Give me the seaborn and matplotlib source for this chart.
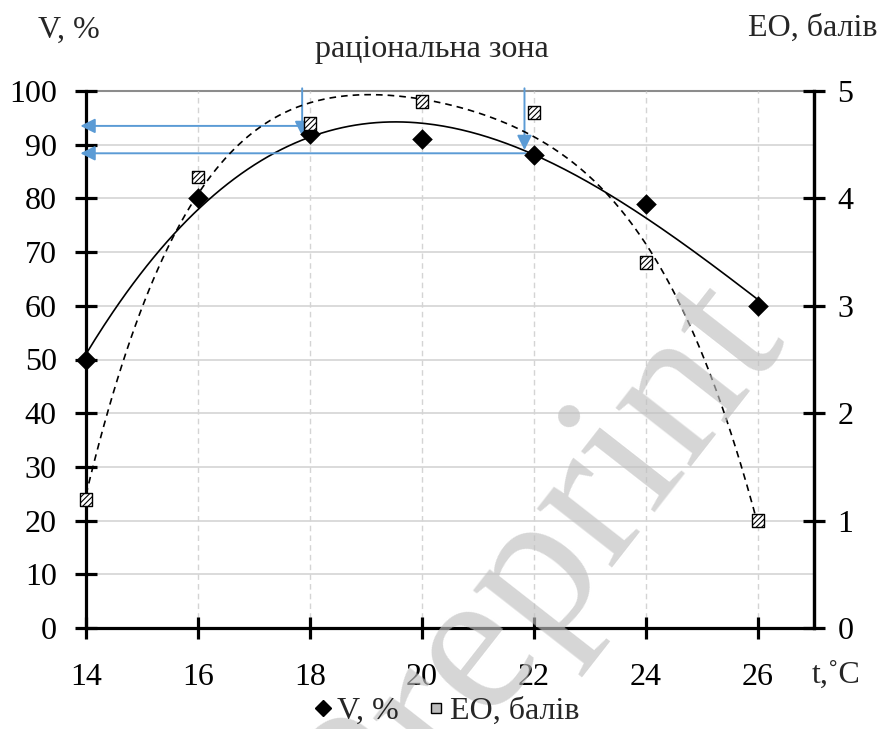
import numpy as np
import pandas as pd
import matplotlib
matplotlib.use("Agg")
import matplotlib.pyplot as plt
import seaborn as sns

# ---- data ----
t_vals = [14, 16, 18, 20, 22, 24, 26]
v_vals = [50, 80, 92, 91, 88, 79, 60]          # V, %
eo_vals = [1.2, 4.2, 4.7, 4.9, 4.8, 3.4, 1.0]  # EO, балів
x_ticks = [14, 16, 18, 20, 22, 24, 26]
y_ticks = [0, 10, 20, 30, 40, 50, 60, 70, 80, 90, 100]
y2_ticks = [0, 1, 2, 3, 4, 5]

sns.set_theme(style="white")
plt.rcParams['font.family'] = ['Liberation Serif', 'DejaVu Serif']
plt.rcParams['hatch.color'] = '#555555'
plt.rcParams['hatch.linewidth'] = 0.8

df = pd.DataFrame({"t": t_vals, "V": v_vals, "EO": eo_vals})

fig = plt.figure(figsize=(8.82, 7.29), dpi=100)
ax = fig.add_axes([86/882, 1-628/729, (814-86)/882, (628-91)/729])
ax2 = ax.twinx()

blue = '#5B9BD5'
grid_c = '#d4d4d4'

ax.set_xlim(14, 27)
ax.set_ylim(0, 100)
ax2.set_ylim(0, 5)

# grid
for y in y_ticks[1:-1]:
    ax.axhline(y, color=grid_c, lw=1.2, zorder=0)
ax.axhline(100, color='#8c8c8c', lw=1.5, zorder=0, clip_on=False)
for x in x_ticks[1:]:
    ax.axvline(x, color=grid_c, lw=1.0, ls=(0, (4, 3)), zorder=0)

# trendlines (polynomial, like spreadsheet trendlines)
tt = np.linspace(14, 26, 300)
pv = np.polyfit(t_vals, v_vals, 3)
pe = np.polyfit(t_vals, eo_vals, 4)
sns.lineplot(x=tt, y=np.polyval(pv, tt), ax=ax, color='black', lw=1.2, zorder=3)
sns.lineplot(x=tt, y=np.polyval(pe, tt), ax=ax2, color='black', lw=1.2,
             linestyle=(0, (4, 3)), zorder=3)

# points
sns.scatterplot(data=df, x="t", y="V", ax=ax, marker='D', s=110, color='black',
                edgecolor='black', linewidth=0, zorder=5, clip_on=False)
sns.scatterplot(data=df, x="t", y="EO", ax=ax2, marker='s', s=85,
                facecolor='white', edgecolor='black', linewidth=1.0,
                zorder=5, clip_on=False)
for coll in ax2.collections:
    coll.set_hatch('//////')

# arrows
ap = dict(arrowstyle='-|>', color=blue, lw=1.4, mutation_scale=22, shrinkA=0, shrinkB=0)
ax.annotate('', xy=(13.9, 93.5), xytext=(17.83, 93.5), arrowprops=ap, annotation_clip=False)
ax.annotate('', xy=(13.9, 88.4), xytext=(21.85, 88.4), arrowprops=ap, annotation_clip=False)
ax.annotate('', xy=(17.86, 91.6), xytext=(17.86, 100.5), arrowprops=ap, annotation_clip=False)
ax.annotate('', xy=(21.83, 89.0), xytext=(21.83, 100.5), arrowprops=ap, annotation_clip=False)

# spines / ticks
for s in ['left', 'bottom', 'right']:
    ax.spines[s].set_visible(True)
    ax.spines[s].set_color('black')
    ax.spines[s].set_linewidth(2.3)
ax.spines['top'].set_visible(False)
ax2.spines['top'].set_visible(False)
ax2.spines['left'].set_visible(False)
ax2.spines['bottom'].set_visible(False)
ax2.spines['right'].set_color('black')
ax2.spines['right'].set_linewidth(2.3)

ax.set_xticks(x_ticks)
ax.set_yticks(y_ticks)
ax2.set_yticks(y2_ticks)
ax.set_xticklabels([str(v) for v in x_ticks])
ax.set_yticklabels([str(v) for v in y_ticks])
ax2.set_yticklabels([str(v) for v in y2_ticks])
ax.tick_params(axis='x', direction='inout', length=16, width=2.3, pad=17,
               labelsize=23, colors='black', bottom=True)
ax.tick_params(axis='y', direction='inout', length=16, width=2.3, pad=13,
               labelsize=23, colors='black', left=True)
ax2.tick_params(axis='y', direction='inout', length=16, width=2.3, pad=9,
                labelsize=23, colors='black', right=True)
ax.set_xlabel('')
ax.set_ylabel('')
ax2.set_ylabel('')

# texts
fig.text(38/882, 1-30/729, 'V, %', fontsize=23, ha='left', va='center')
fig.text(877/882, 1-28/729, 'EO, балів', fontsize=23, ha='right', va='center')
fig.text(432/882, 1-50/729, 'раціональна зона', fontsize=23, ha='center', va='center')
fig.text(812/882, 1-675/729, 't,˚C', fontsize=23, ha='left', va='center')

# legend
from matplotlib.lines import Line2D
h1 = Line2D([], [], marker='D', color='black', ls='none', markersize=8)
h2 = Line2D([], [], marker='s', markerfacecolor='#bdbdbd', markeredgecolor='black',
            ls='none', markersize=7)
fig.legend([h1, h2], ['V, %', 'EO, балів'], loc='center', bbox_to_anchor=(444/882, 1-711/729),
           ncol=2, frameon=False, fontsize=23, handletextpad=0.0, columnspacing=0.7,
           handlelength=0.9, borderpad=0.1)

# watermark
fig.text(540/882, 1-570/729, 'Preprint', fontsize=150, rotation=52, color='#c0c0c0',
         alpha=0.65, ha='center', va='center', zorder=0)

fig.savefig('out.png', dpi=100)
